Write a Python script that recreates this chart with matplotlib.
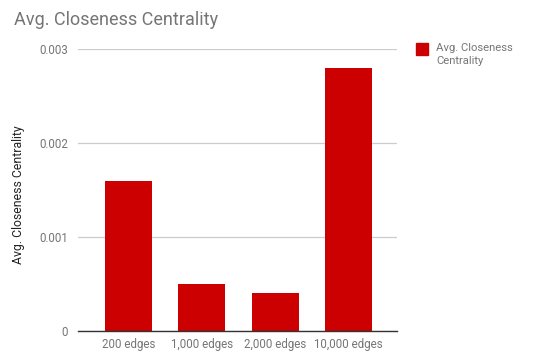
import matplotlib
matplotlib.use("Agg")
import matplotlib.pyplot as plt

categories = ["200 edges", "1,000 edges", "2,000 edges", "10,000 edges"]
values = [0.0016, 0.0005, 0.0004, 0.0028]
yticks = [0, 0.001, 0.002, 0.003]
ytick_labels = ["0", "0.001", "0.002", "0.003"]
series_name = "Avg. Closeness Centrality"

plt.rcParams['font.family'] = ['Roboto', 'DejaVu Sans']
W, H = 551, 354
fig = plt.figure(figsize=(W/100, H/100), dpi=100)
# plot area in pixels: x 78..397, y 49..331
x0, x1, yt, yb = 78, 397, 49, 331
ax = fig.add_axes([x0/W, 1 - yb/H, (x1-x0)/W, (yb-yt)/H])

xs = list(range(len(categories)))
ax.bar(xs, values, width=0.64, color="#cc0000", zorder=3, label=series_name)
ax.set_xlim(-0.69, 3.66)
ax.set_ylim(0, 0.003)
ax.set_yticks(yticks)
ax.set_yticklabels(ytick_labels)
ax.set_xticks(xs)
ax.set_xticklabels(categories)
ax.tick_params(axis='both', length=0, labelsize=8.3, labelcolor="#757575")
ax.tick_params(axis='y', pad=7)
ax.tick_params(axis='x', pad=5)
ax.grid(axis='y', color="#cccccc", linewidth=0.9, zorder=0)
for s in ["top", "right", "left"]:
    ax.spines[s].set_visible(False)
ax.spines["bottom"].set_color("#333333")
ax.spines["bottom"].set_linewidth(1)
ax.spines["bottom"].set_zorder(4)

fig.text(14/W, 1 - 20/H, "Avg. Closeness Centrality", fontsize=13, color="#757575",
         ha="left", va="center")
fig.text(19/W, 1 - 195/H, series_name, fontsize=8.8, color="#222222",
         rotation=90, ha="center", va="center")

# legend
fig.patches.append(plt.Rectangle((416/W, 1 - 55/H), 12/W, 12/H, color="#cc0000",
                                 transform=fig.transFigure, figure=fig))
fig.text(436/W, 1 - 48/H, "Avg. Closeness", fontsize=8.1, color="#757575", ha="left", va="center")
fig.text(436/W, 1 - 61/H, "Centrality", fontsize=8.1, color="#757575", ha="left", va="center")

fig.savefig("out.png", dpi=100)
